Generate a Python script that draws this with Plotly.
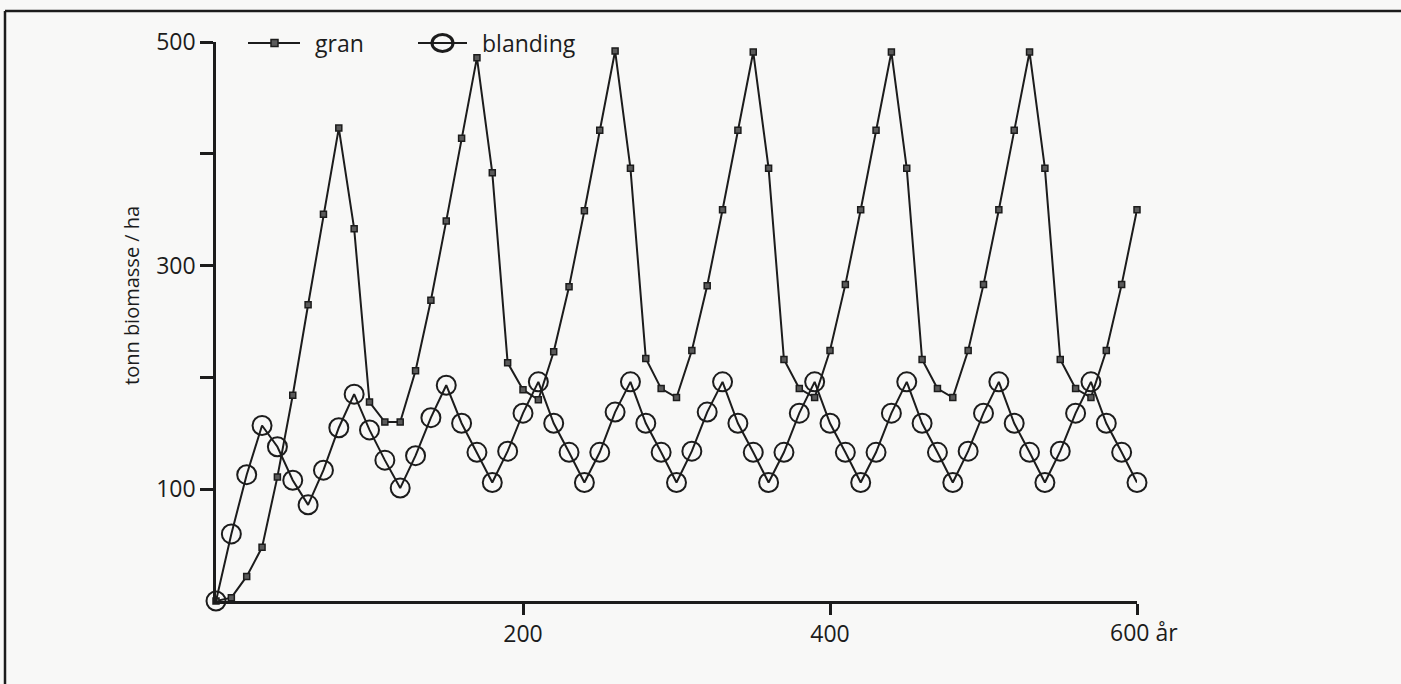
import plotly.graph_objects as go

# Biomass development over time (tonnes per hectare) for spruce and mixed stands
years = [0, 10, 20, 30, 40, 50, 60, 70, 80, 90,
         100, 110, 120, 130, 140, 150, 160, 170, 180, 190,
         200, 210, 220, 230, 240, 250, 260, 270, 280, 290,
         300, 310, 320, 330, 340, 350, 360, 370, 380, 390,
         400, 410, 420, 430, 440, 450, 460, 470, 480, 490,
         500, 510, 520, 530, 540, 550, 560, 570, 580, 590,
         600]

gran = [0, 3, 22, 48, 111, 184, 265, 346, 423, 333,
        178, 160, 160, 206, 269, 340, 414, 486, 383, 213,
        189, 180, 223, 281, 349, 421, 492, 387, 217, 190,
        182, 224, 282, 350, 421, 491, 387, 216, 190, 182,
        224, 283, 350, 421, 491, 387, 216, 190, 182, 224,
        283, 350, 421, 491, 387, 216, 190, 182, 224, 283,
        350]

blanding = [0, 60, 113, 157, 138, 108, 86, 117, 155, 185,
            153, 126, 101, 130, 164, 193, 159, 133, 106, 134,
            168, 196, 159, 133, 106, 133, 169, 196, 159, 133,
            106, 134, 169, 196, 159, 133, 106, 133, 168, 196,
            159, 133, 106, 133, 168, 196, 159, 133, 106, 134,
            168, 196, 159, 133, 106, 134, 168, 196, 159, 133,
            106]

x_tick_vals = [200, 400, 600]
x_tick_text = ["200", "400", ""]
y_tick_vals = [100, 200, 300, 400, 500]
y_tick_text = ["100", "", "300", "", "500"]

W, H = 1401, 684
L, R, T, B = 216, 264, 42, 83
PW, PH = W - L - R, H - T - B
INK = "#1c1c1c"
FONT = "Open Sans"
FS = 23


def px(xp):
    return (xp - L) / PW


def py(yp):
    return (H - B - yp) / PH


fig = go.Figure()

fig.add_trace(go.Scatter(
    x=years, y=gran, name="gran", mode="lines+markers",
    line=dict(color=INK, width=2),
    marker=dict(symbol="square", size=6, color="#5a5a5a",
                line=dict(color=INK, width=1.5)),
    cliponaxis=False, showlegend=False,
))

fig.add_trace(go.Scatter(
    x=years, y=blanding, name="blanding", mode="lines+markers",
    line=dict(color=INK, width=2),
    marker=dict(symbol="circle-open", size=19, color=INK,
                line=dict(color=INK, width=2)),
    cliponaxis=False, showlegend=False,
))

shapes = []
# page frame lines
shapes.append(dict(type="line", xref="paper", yref="paper",
                   x0=px(5), x1=px(1401), y0=py(11), y1=py(11),
                   line=dict(color=INK, width=2.5)))
shapes.append(dict(type="line", xref="paper", yref="paper",
                   x0=px(5), x1=px(5), y0=py(11), y1=py(684),
                   line=dict(color=INK, width=2.5)))

# legend keys
ly = py(43)
shapes.append(dict(type="line", xref="paper", yref="paper",
                   x0=px(248), x1=px(300), y0=ly, y1=ly,
                   line=dict(color=INK, width=2)))
shapes.append(dict(type="rect", xref="paper", yref="paper",
                   x0=px(271), x1=px(278), y0=py(46.5), y1=py(39.5),
                   fillcolor="#5a5a5a", line=dict(color=INK, width=1.5)))
shapes.append(dict(type="line", xref="paper", yref="paper",
                   x0=px(418), x1=px(467), y0=ly, y1=ly,
                   line=dict(color=INK, width=2)))
shapes.append(dict(type="circle", xref="paper", yref="paper",
                   x0=px(432), x1=px(453), y0=py(51.5), y1=py(34.5),
                   line=dict(color=INK, width=3)))

annotations = [
    dict(text="gran", xref="paper", yref="paper", x=px(313), y=ly,
         xanchor="left", yanchor="middle", showarrow=False,
         font=dict(family=FONT, size=FS, color=INK)),
    dict(text="blanding", xref="paper", yref="paper", x=px(480), y=ly,
         xanchor="left", yanchor="middle", showarrow=False,
         font=dict(family=FONT, size=FS, color=INK)),
    dict(text="600 år", xref="paper", yref="paper", x=px(1108), y=py(632),
         xanchor="left", yanchor="middle", showarrow=False,
         font=dict(family=FONT, size=FS, color=INK)),
    dict(text="tonn biomasse / ha", xref="paper", yref="paper",
         x=px(131), y=py(296), textangle=-90,
         xanchor="center", yanchor="middle", showarrow=False,
         font=dict(family=FONT, size=20, color=INK)),
]

fig.update_layout(
    width=W, height=H,
    margin=dict(l=L, r=R, t=T, b=B, pad=0),
    paper_bgcolor="#f8f8f7", plot_bgcolor="rgba(0,0,0,0)",
    shapes=shapes, annotations=annotations,
    showlegend=False,
    font=dict(family=FONT, size=FS, color=INK),
)

fig.update_xaxes(
    range=[0, 600], showgrid=False, zeroline=False,
    showline=True, linecolor=INK, linewidth=2.5,
    ticks="outside", ticklen=11, tickwidth=2.5, tickcolor=INK,
    tickvals=x_tick_vals, ticktext=x_tick_text,
    tickfont=dict(family=FONT, size=FS, color=INK),
)
fig.update_yaxes(
    range=[0, 500], showgrid=False, zeroline=False,
    showline=True, linecolor=INK, linewidth=2.5,
    ticks="outside", ticklen=13, tickwidth=2.5, tickcolor=INK,
    tickvals=y_tick_vals, ticktext=y_tick_text,
    tickfont=dict(family=FONT, size=FS, color=INK),
)

fig.write_html("out.html")
